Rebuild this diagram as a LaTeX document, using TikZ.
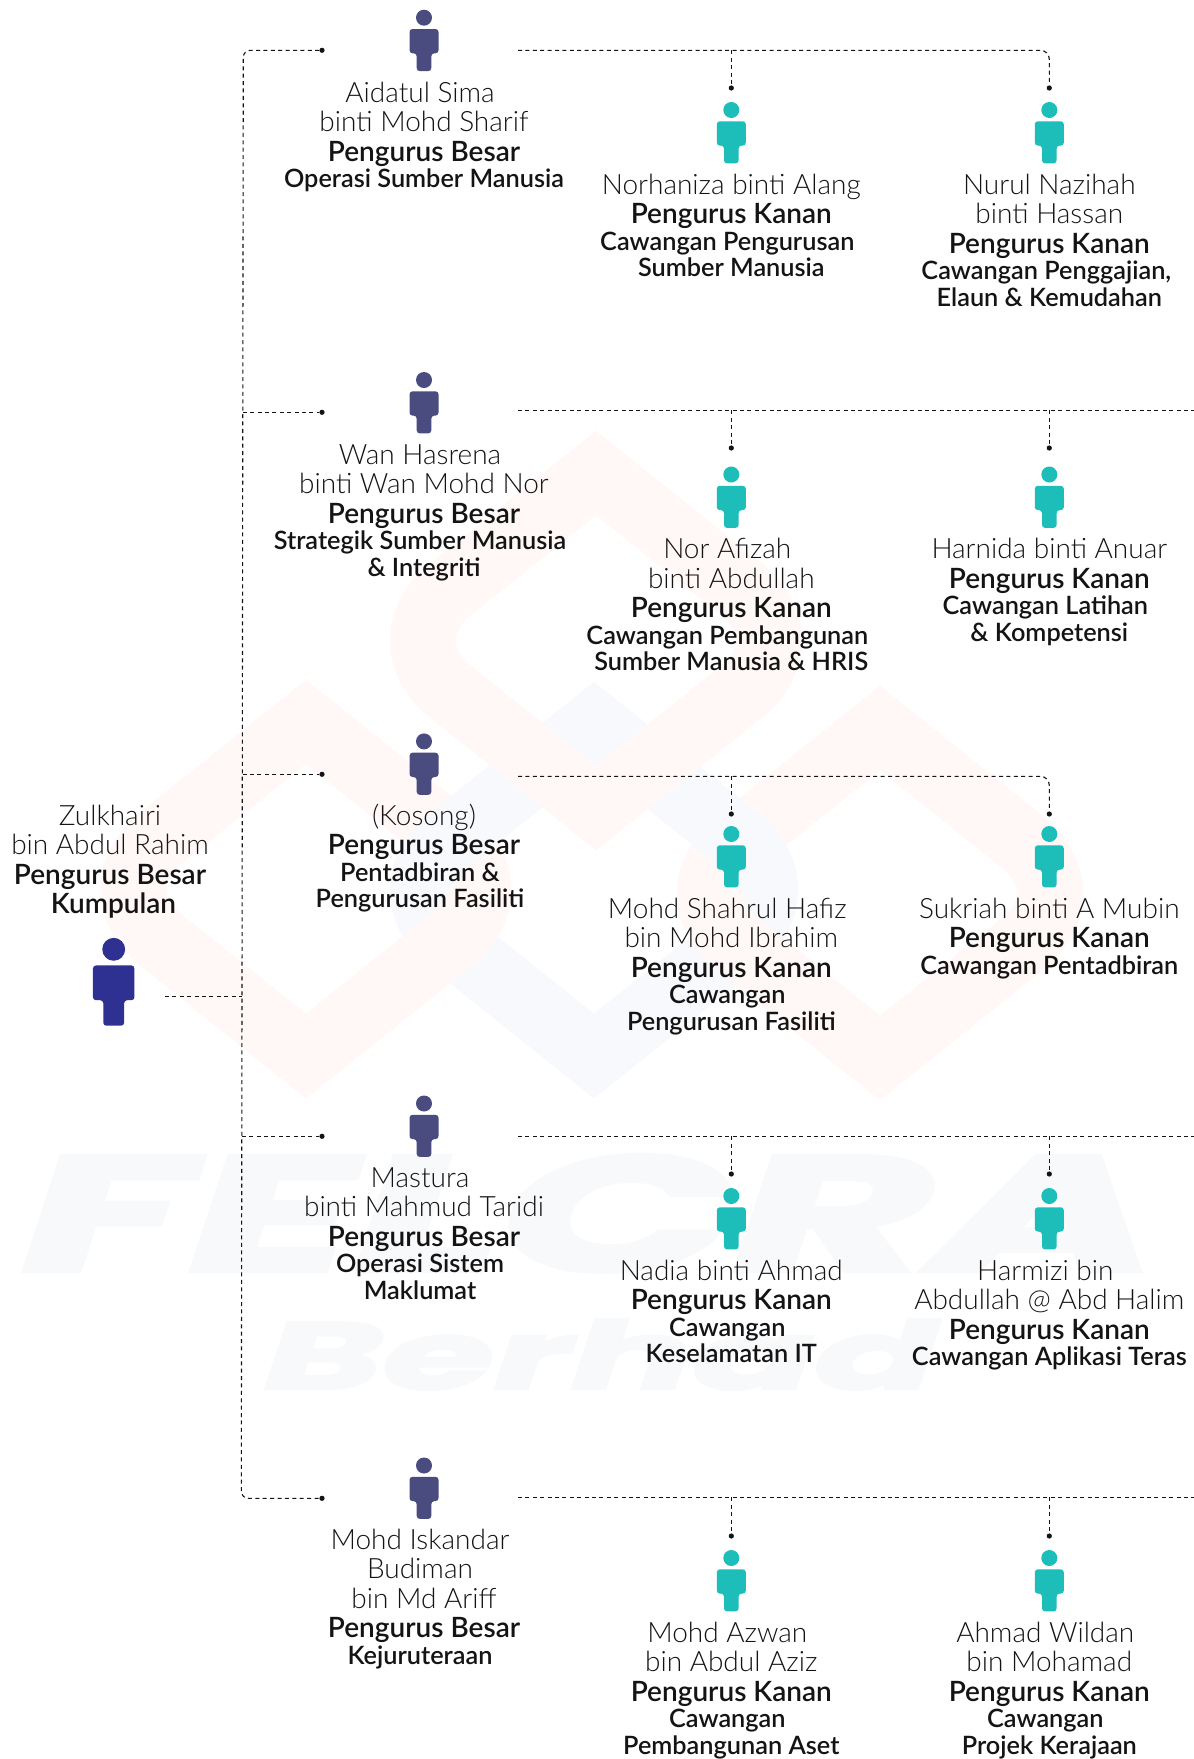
\documentclass[tikz,border=0pt]{standalone}
\usepackage{fontspec}
\setmainfont{Lato}
\newfontfamily\latolt{Lato Light}
\newfontfamily\latosb{Lato Semibold}
\newfontfamily\wmf[FakeBold=2.5]{Poppins}
\definecolor{wmpink}{HTML}{FFF8F7}
\definecolor{wmblue}{HTML}{F8F9FC}
\definecolor{wmtext}{HTML}{F8F9FB}
\definecolor{mgr}{HTML}{4A4C7F}
\definecolor{sen}{HTML}{1DBDB9}
\definecolor{ceo}{HTML}{2E3192}
\definecolor{ink}{HTML}{141414}
\newcommand\PNa[1]{{\latolt\fontsize{28}{26.5}\selectfont #1}}
\newcommand\PTi[1]{{\latosb\fontsize{28}{26.5}\selectfont #1}}
\newcommand\PSu[1]{{\latosb\fontsize{25.3}{26.5}\selectfont #1}}
\newcommand\shf[2]{\mbox{\hspace*{#1pt}#2}}
\newcommand\NLx{\\[3pt]}
\newcommand\TLx{\\[0.3pt]}
\tikzset{
  blockst/.style={anchor=north,inner sep=0pt,align=center,text=ink,
    font=\fontsize{23}{26.5}\selectfont},
  link/.style={draw=ink,line width=1.1pt,dash pattern=on 4pt off 3.4pt},
  enddot/.style={circle,fill=ink,inner sep=0pt,minimum size=5.2pt},
  band/.style={line width=66pt,miter limit=10,line join=miter},
}
% block: name, x, first baseline, lines
\newcommand\blk[4]{\node[blockst] (#1) at ({#2},{#3-29.2}) {\lineskiplimit=-100pt\relax\rule{0pt}{30pt}#4};}
% person icon: name, head x, head y, scale, colour
\newcommand\person[5]{%
  \coordinate (#1) at (#2,#3);
  \begin{scope}[shift={(#2,#3)},scale=#4]
    \fill[#5] (0,0) circle (8);
    \fill[#5,rounded corners=3pt] (-14.5,11.3) -- (14.5,11.3) -- (14.5,35.6) -- (7.3,35.6) -- (7.3,53.4) -- (-7.3,53.4) -- (-7.3,35.6) -- (-14.5,35.6) -- cycle;
  \end{scope}}
\newcommand\lobe[3]{.. controls ({#1-#3*27.9},{#2-22.4}) and ({#1-#3*27.9},{#2+22.4}) .. ({#1-#3*62.4},{#2+50})}
\newcommand\lobeup[3]{.. controls ({#1-#3*27.9},{#2+22.4}) and ({#1-#3*27.9},{#2-22.4}) .. ({#1-#3*62.4},{#2-50})}
% rounded diamond: colour, centre x, top, bottom
\newcommand\diam[4]{%
  \pgfmathsetmacro\hwv{(#4-#3)/1.6}\pgfmathsetmacro\mdv{(#3+#4)/2}%
  \draw[band,draw=#1] (#2,#3) -- ({#2+\hwv-62.4},{\mdv-50}) \lobe{#2+\hwv}{\mdv}{1} -- (#2,#4) -- ({#2-\hwv+62.4},{\mdv+50}) \lobeup{#2-\hwv}{\mdv}{-1} -- cycle;}
% lower half from the inner lobe: colour, centre x, top, bottom, side (+1 right lobe, -1 left lobe)
\newcommand\diamlow[5]{%
  \pgfmathsetmacro\hwv{(#4-#3)/1.6}\pgfmathsetmacro\mdv{(#3+#4)/2}%
  \pgfmathsetmacro\cxx{#2+#5*\hwv}%
  \draw[band,draw=#1] ({\cxx-#5*36.5},{\mdv}) .. controls ({\cxx-#5*36.5},{\mdv+18.1}) and ({\cxx-#5*45.15},{\mdv+36.2}) .. ({\cxx-#5*62.4},{\mdv+50}) -- (#2,#4);}
\begin{document}
\begin{tikzpicture}[x=1pt,y=-1pt]
\useasboundingbox (0,0) rectangle (1194,1759);
\fill[white] (0,0) rectangle (1194,1759);
% watermark
\diam{wmpink}{306}{722}{1056}
\diam{wmpink}{880}{728}{1058}
\diam{wmblue}{594}{724}{1056}
\diamlow{wmpink}{306}{722}{1056}{1}
\diamlow{wmpink}{880}{728}{1058}{-1}
\diam{wmpink}{596}{473}{808}
\node[anchor=south west,inner sep=0pt,text=wmtext] (wmA) at (22,1272) {\resizebox{1135pt}{116pt}{\wmf\bfseries\itshape FELCRA}};
\node[anchor=south west,inner sep=0pt,text=wmtext] (wmB) at (264,1390) {\resizebox{672pt}{70pt}{\wmf\bfseries\itshape Berhad}};
% icons
\person{pC}{113.7}{949.3}{1.43}{ceo}
\person{p1}{424}{17.7}{1}{mgr}
\person{p2}{424}{380}{1}{mgr}
\person{p3}{424}{741.4}{1}{mgr}
\person{p4}{424}{1103.5}{1}{mgr}
\person{p5}{424}{1465.5}{1}{mgr}
\person{q1a}{731.3}{110}{1}{sen}
\person{q1b}{1049.3}{110}{1}{sen}
\person{q2a}{731.3}{474.5}{1}{sen}
\person{q2b}{1049.3}{474.5}{1}{sen}
\person{q3a}{731.3}{834}{1}{sen}
\person{q3b}{1049.3}{834}{1}{sen}
\person{q4a}{731.3}{1196}{1}{sen}
\person{q4b}{1049.3}{1196}{1}{sen}
\person{q5a}{731.3}{1558}{1}{sen}
\person{q5b}{1049.3}{1558}{1}{sen}
% end points
\coordinate (spC) at (242.3,996.7);
\coordinate (ceoEnd) at (165,996.7);
\coordinate (sT) at (243.3,50.3);
\coordinate (sB) at (241.3,1498.3);
\coordinate (s2) at (242.8,412.3);
\coordinate (s3) at (242.6,774.3);
\coordinate (s4) at (241.8,1136.3);
\foreach \n/\yy in {1/50.3,2/412.3,3/774.3,4/1136.3,5/1498.3}{\node[enddot] (dl\n) at (322,\yy) {};}
\foreach \n/\yy in {1/50.3,2/410.3,3/776.3,4/1136.3,5/1497.3}{\coordinate (rs\n) at (518,\yy);\coordinate (ja\n) at (731.3,\yy);\coordinate (jb\n) at (1049.3,\yy);\coordinate (re\n) at (1194,\yy);}
\foreach \n/\yy in {1/88,2/448,3/814,4/1174,5/1536}{\node[enddot] (da\n) at (731.3,\yy) {};\node[enddot] (db\n) at (1049.3,\yy) {};}
% connectors
\draw[link] (ceoEnd) -- (spC);
\draw[link,rounded corners=7pt] (dl1) -- (sT) -- (sB) -- (dl5);
\draw[link] (s2) -- (dl2);
\draw[link] (s3) -- (dl3);
\draw[link] (s4) -- (dl4);
\draw[link,rounded corners=9pt] (rs1) -- (jb1) -- (db1);
\draw[link,rounded corners=9pt] (rs3) -- (jb3) -- (db3);
\draw[link] (rs2) -- (re2);
\draw[link] (rs4) -- (re4);
\draw[link] (rs5) -- (re5);
\foreach \n in {1,...,5}{\draw[link] (ja\n) -- (da\n);}
\foreach \n in {2,4,5}{\draw[link] (jb\n) -- (db\n);}
% text
\blk{tC}{110}{824}{\PNa{Zulkhairi}\NLx\PNa{bin Abdul Rahim}\NLx\PTi{Pengurus Besar}\NLx\shf{7}{\PTi{Kumpulan}}}
\blk{t1}{424}{101}{\shf{-8}{\PNa{Aidatul Sima}}\NLx\PNa{binti Mohd Sharif}\NLx\PTi{Pengurus Besar}\TLx\PSu{Operasi Sumber Manusia}}
\blk{t2}{424}{463}{\shf{-8}{\PNa{Wan Hasrena}}\NLx\PNa{binti Wan Mohd Nor}\NLx\PTi{Pengurus Besar}\TLx\shf{-8}{\PSu{Strategik Sumber Manusia}}\\\PSu{\& Integriti}}
\blk{t3}{424}{824}{\PNa{(Kosong)}\NLx\PTi{Pengurus Besar}\TLx\shf{-8}{\PSu{Pentadbiran \&}}\\\shf{-8}{\PSu{Pengurusan Fasiliti}}}
\blk{t4}{424}{1186}{\shf{-8}{\PNa{Mastura}}\NLx\PNa{binti Mahmud Taridi}\NLx\PTi{Pengurus Besar}\TLx\shf{-8}{\PSu{Operasi Sistem}}\\\shf{-8}{\PSu{Maklumat}}}
\blk{t5}{424}{1548}{\shf{-8}{\PNa{Mohd Iskandar}}\NLx\shf{-8}{\PNa{Budiman}}\NLx\PNa{bin Md Ariff}\NLx\PTi{Pengurus Besar}\TLx\shf{-8}{\PSu{Kejuruteraan}}}
\blk{u1a}{731.3}{193}{\PNa{Norhaniza binti Alang}\NLx\PTi{Pengurus Kanan}\TLx\shf{-8}{\PSu{Cawangan Pengurusan}}\\\PSu{Sumber Manusia}}
\blk{u1b}{1049.3}{193}{\PNa{Nurul Nazihah}\NLx\PNa{binti Hassan}\NLx\PTi{Pengurus Kanan}\TLx\shf{-6}{\PSu{Cawangan Penggajian,}}\\\PSu{Elaun \& Kemudahan}}
\blk{u2a}{731.3}{557.5}{\shf{-8}{\PNa{Nor Afizah}}\NLx\PNa{binti Abdullah}\NLx\PTi{Pengurus Kanan}\TLx\shf{-8}{\PSu{Cawangan Pembangunan}}\\\PSu{Sumber Manusia \& HRIS}}
\blk{u2b}{1049.3}{557.5}{\PNa{Harnida binti Anuar}\NLx\PTi{Pengurus Kanan}\TLx\shf{-8}{\PSu{Cawangan Latihan}}\\\PSu{\& Kompetensi}}
\blk{u3a}{731.3}{917}{\shf{-8}{\PNa{Mohd Shahrul Hafiz}}\NLx\PNa{bin Mohd Ibrahim}\NLx\PTi{Pengurus Kanan}\TLx\shf{-8}{\PSu{Cawangan}}\\\PSu{Pengurusan Fasiliti}}
\blk{u3b}{1049.3}{917}{\PNa{Sukriah binti A Mubin}\NLx\PTi{Pengurus Kanan}\TLx\PSu{Cawangan Pentadbiran}}
\blk{u4a}{731.3}{1279}{\PNa{Nadia binti Ahmad}\NLx\PTi{Pengurus Kanan}\TLx\shf{-8}{\PSu{Cawangan}}\\\PSu{Keselamatan IT}}
\blk{u4b}{1049.3}{1279}{\shf{-8}{\PNa{Harmizi bin}}\NLx\PNa{Abdullah @ Abd Halim}\NLx\PTi{Pengurus Kanan}\TLx\PSu{Cawangan Aplikasi Teras}}
\blk{u5a}{731.3}{1641}{\shf{-8}{\PNa{Mohd Azwan}}\NLx\PNa{bin Abdul Aziz}\NLx\PTi{Pengurus Kanan}\TLx\shf{-8}{\PSu{Cawangan}}\\\PSu{Pembangunan Aset}}
\blk{u5b}{1049.3}{1641}{\shf{-8}{\PNa{Ahmad Wildan}}\NLx\PNa{bin Mohamad}\NLx\PTi{Pengurus Kanan}\TLx\shf{-8}{\PSu{Cawangan}}\\\PSu{Projek Kerajaan}}
\end{tikzpicture}
\end{document}
